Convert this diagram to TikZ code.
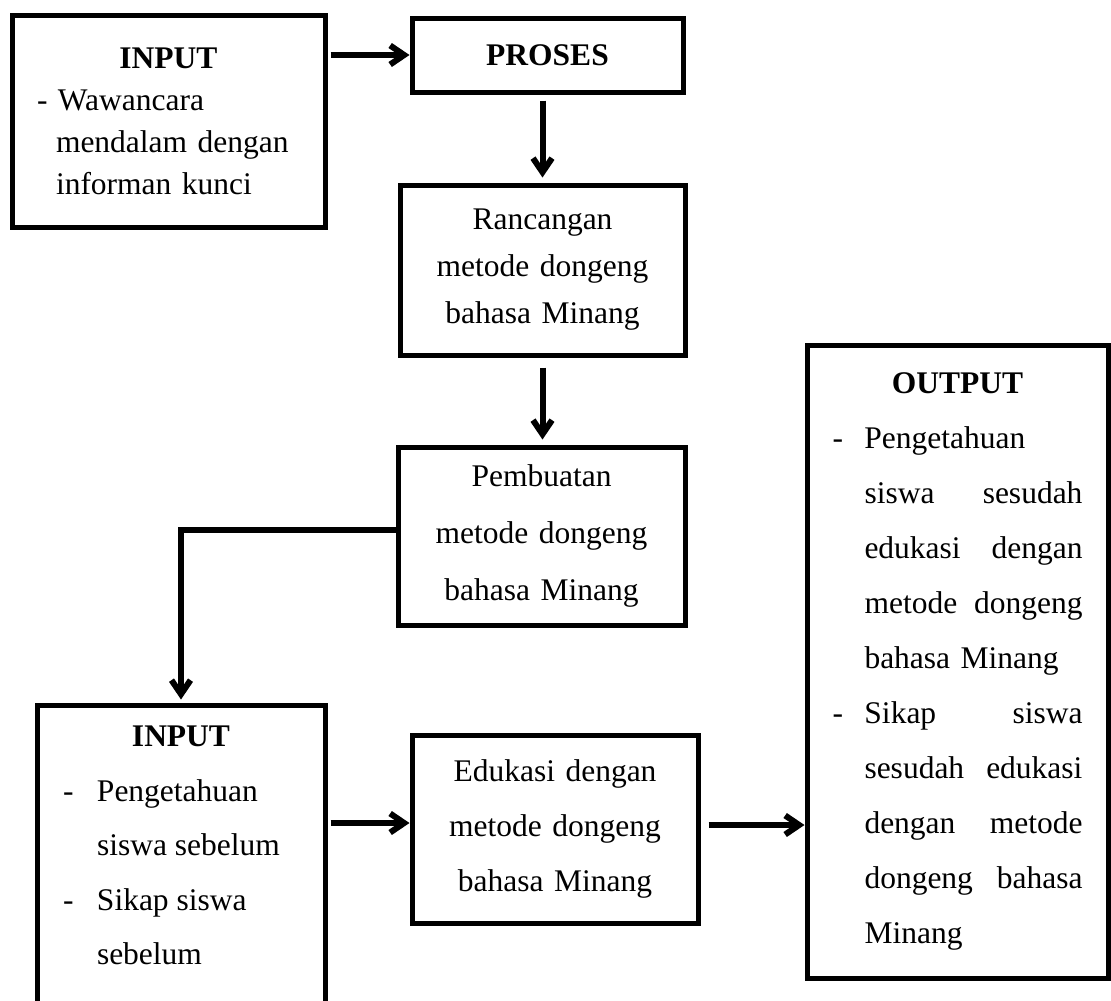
\documentclass[tikz,border=0pt]{standalone}
\usepackage{fontspec}
\setmainfont{Liberation Serif}
\usetikzlibrary{arrows.meta}

\tikzset{
  box/.style={draw, rectangle, line width=5pt, inner sep=0pt, font=\fontsize{31.5}{55}\selectfont},
  arr/.style={line width=6pt, -{Straight Barb[length=14pt,width=19pt]}},
}
% baris rata kiri-kanan di kotak output
\newcommand{\jline}[2]{\makebox[218pt][s]{#1\hfill #2}}

\begin{document}
\begin{tikzpicture}[x=1pt, y=-1pt]
    \useasboundingbox (0,0) rectangle (1111,1001);

    % kolom kiri dan tengah atas
    \node[box, minimum width=313pt, minimum height=212pt, text width=263pt, align=left,
          font=\fontsize{31.5}{42}\selectfont] (in1) at (168.5,121)
        {{\centering\textbf{INPUT}\par}- Wawancara\\\hspace*{19pt}mendalam dengan\\\hspace*{19pt}informan kunci};
    \node[box, minimum width=271pt, minimum height=74pt, font=\fontsize{31.5}{40}\selectfont\bfseries] (proses) at (547.5,55) {PROSES};
    \node[box, minimum width=285pt, minimum height=170pt, text width=260pt, align=center,
          font=\fontsize{31.5}{47}\selectfont] (ranc) at (542.5,270) {Rancangan\\metode dongeng\\bahasa Minang};
    \node[box, minimum width=287pt, minimum height=178pt, text width=260pt, align=center,
          font=\fontsize{31.5}{57}\selectfont] (pemb) at (541.5,536) {Pembuatan\\metode dongeng\\bahasa Minang};

    % baris bawah
    \node[box, inner xsep=26pt, inner ysep=21pt, font=\fontsize{31.5}{54.5}\selectfont] (in2) at (181,867.5)
        {\parbox[c][283pt][t]{236pt}{{\centering\textbf{INPUT}\par}\raggedright
         \makebox[34pt][l]{-}Pengetahuan\\\hspace*{34pt}siswa sebelum\\
         \makebox[34pt][l]{-}Sikap siswa\\\hspace*{34pt}sebelum}};
    \node[box, minimum width=286pt, minimum height=188pt, text width=260pt, align=center,
          font=\fontsize{31.5}{55}\selectfont] (edu) at (555,829) {Edukasi dengan\\metode dongeng\\bahasa Minang};
    \node[box, minimum width=301pt, minimum height=633pt, text width=250pt, align=left,
          font=\fontsize{31.5}{55}\selectfont] (out) at (957.5,661.5)
        {{\centering\textbf{OUTPUT}\par}
         \makebox[32pt][l]{-}Pengetahuan\\
         \hspace*{32pt}\jline{siswa}{sesudah}\\
         \hspace*{32pt}\jline{edukasi}{dengan}\\
         \hspace*{32pt}\jline{metode}{dongeng}\\
         \hspace*{32pt}bahasa Minang\\
         \makebox[32pt][l]{-}\jline{Sikap}{siswa}\\
         \hspace*{32pt}\jline{sesudah}{edukasi}\\
         \hspace*{32pt}\jline{dengan}{metode}\\
         \hspace*{32pt}\jline{dongeng}{bahasa}\\
         \hspace*{32pt}Minang};

    % titik bantu panah
    \coordinate (pembw) at ([yshift=6pt]pemb.west);
    \coordinate (eduw) at ([yshift=6pt]edu.west);
    \coordinate (edue) at ([yshift=4pt]edu.east);

    % panah
    \draw[arr, shorten <=3pt] (in1.east |- proses.west) -- (proses.west);
    \draw[arr, shorten <=6pt, shorten >=5pt] (ranc.north |- proses.south) -- (ranc.north);
    \draw[arr, shorten <=10pt, shorten >=5pt] (ranc.south) -- (ranc.south |- pemb.north);
    \draw[arr, shorten >=3pt] (pembw) -| (in2.north);
    \draw[arr, shorten <=3pt] (in2.east |- eduw) -- (eduw);
    \draw[arr, shorten <=8pt] (edue) -- (out.west |- edue);
\end{tikzpicture}
\end{document}
